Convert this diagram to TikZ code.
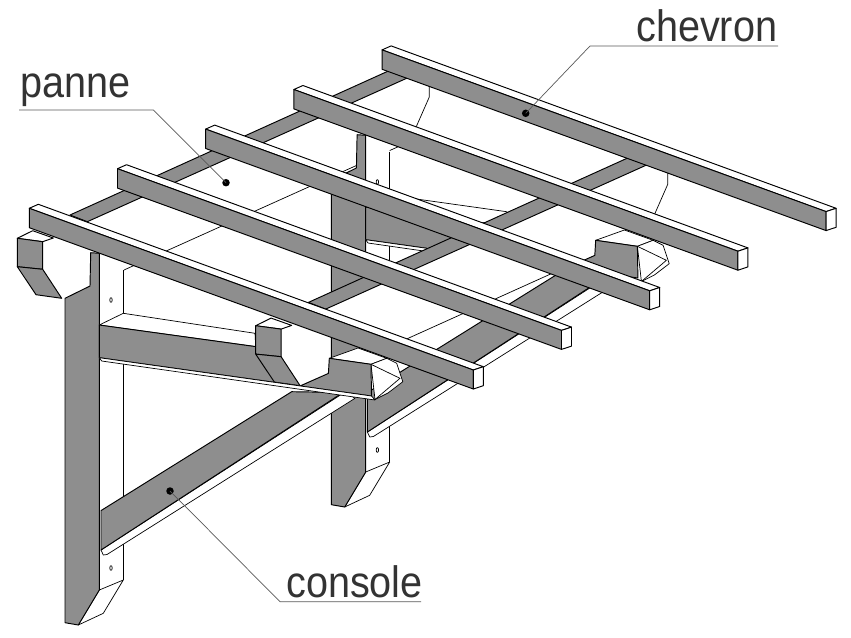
\documentclass[tikz,border=0pt]{standalone}
\usepackage{fontspec}
\setmainfont[FakeStretch=0.9]{Liberation Sans}
\definecolor{woodgray}{HTML}{8E8E8E}
\tikzset{
  edge/.style={draw=black,line width=0.95pt,line join=round},
  grayface/.style={edge,fill=woodgray},
  whiteface/.style={edge,fill=white},
  thin edge/.style={draw=black,line width=0.7pt,line join=round},
  thinface/.style={thin edge,fill=white},
  leader/.style={draw=black!65,line width=0.7pt},
  pin/.style={circle,fill=black,inner sep=0pt,minimum size=7.5pt},
  lab/.style={anchor=base west,inner sep=0pt,font=\fontsize{44}{44}\selectfont,text=black!80}
}
\newcommand{\rafter}[2]{%
  \begin{scope}[shift={(#1,#2)}]
    \path[whiteface] (29.3,208.3)--(38.3,204.3)--(483.3,366.7)--(473.3,370)--cycle;
    \path[grayface] (29.3,208.3)--(473.3,370)--(473.3,389)--(29.3,227.7)--cycle;
    \path[whiteface] (473.3,370)--(483.3,366.7)--(483.3,385.7)--(473.3,389)--cycle;
  \end{scope}}
\newcommand{\postparts}{%
  \fill[white] (99.3,262)--(123.3,262)--(123.3,585)--(99.3,595)--cycle;
  \draw[thin edge] (123.3,270)--(123.3,580);
  \path[thinface] (99.3,590)--(123.3,580)--(103.3,613.3)--(78.3,625)--cycle;
  \draw[thin edge] (111,300) ellipse (1.2pt and 2.4pt);
  \draw[thin edge] (111,568) ellipse (1.2pt and 2.4pt);
  \path[grayface] (65,298.3)--(90,286)--(90.7,252.7)--(99.3,253.3)--(99.3,590)--(78.3,625)--(65,622.7)--cycle;}
\newcommand{\strutparts}{%
  \path[thinface] (101,550)--(103.3,555)--(107,554.5)--(355,398.3)--(345,392)--cycle;
  \path[grayface] (101,510.6)--(291.7,391.7)--(343,392.5)--(101,550)--cycle;}
\newcommand{\armend}{%
  \path[thinface] (329.3,358.3)--(358,348)--(386.7,358.3)--(371,364.3)--cycle;
  \path[thinface] (371,364.3)--(386.7,358.3)--(396.7,363.3)--(402.8,381.7)--(388,393)--(375,399.5)--cycle;
  \draw[thin edge] (371,364.3)--(400,378.3)--(375,399.5);
  \path[grayface] (300,386)--(328.4,373.4)--(329.3,358.3)--(371,364.3)--(371.5,396)--cycle;}
\newcommand{\bracket}[2]{%
  \begin{scope}[shift={(#1,#2)}]
    \fill[white] (42.7,241.7)--(42.7,269.3)--(61.7,298.3)--(65,298.3)--(90,286)--(90,240)--cycle;
    \path[whiteface] (17.3,238.3)--(32.7,230.7)--(53.3,238)--(42.7,241.7)--cycle;
    \path[grayface] (17.3,238.3)--(42.7,241.7)--(42.7,269.3)--(17.3,266.7)--cycle;
    \path[grayface] (17.3,266.7)--(42.7,269.3)--(61.7,298.3)--(36,294.7)--cycle;
  \end{scope}}
\newcommand{\purlin}[2]{%
  \begin{scope}[shift={(#1,#2)}]
    \path[grayface] (70,215)--(395,68)--(414,75)--(87.3,221.7)--cycle;
    \draw[thin edge] (429.3,80)--(429.3,97)--(416.7,125.7)--(413,134);
  \end{scope}}
\begin{document}
\begin{tikzpicture}[x=1pt,y=-1pt]
\useasboundingbox (0,0) rectangle (851,637);
% plane lines behind everything
\draw[thin edge] (124,270)--(402,145)--(425,135);
\draw[thin edge] (380,351)--(575,263);
% back console
\begin{scope}[shift={(266.4,-118)}]
  \postparts
  \strutparts
\end{scope}
\path[thinface] (365.7,207)--(390,195.3)--(506.7,211.7)--(506,226)--cycle;
\path[grayface] (365.7,207)--(506,226)--(430,251)--(426.7,248.3)--(365.7,239.7)--cycle;
\path[thinface] (365.7,239.7)--(368,243)--(427,251.5)--(426.7,248.3)--cycle;
\begin{scope}[shift={(266.4,-118)}]
  \armend
\end{scope}
\fill[white] (318,311)--(392,279)--(392,340)--(318,322)--cycle;
% purlins
\purlin{0}{0}
\purlin{238.4}{87.4}
% front console
\bracket{0}{0}
\postparts
\strutparts
\path[thinface] (99.3,325)--(123.3,313.3)--(255,333.3)--(255.7,346.6)--cycle;
\path[grayface] (99.3,325)--(255.7,346.6)--(275,381.7)--(275,382.4)--(99.3,357.7)--cycle;
\bracket{238.4}{87.4}
\armend
\path[thinface] (99.3,357.7)--(101.7,361)--(375,400)--(371.5,396)--cycle;
% rafters
\rafter{352.8}{-158.4}
\rafter{264.6}{-118.8}
\rafter{176.4}{-79.2}
\rafter{88.2}{-39.6}
\rafter{0}{0}
% labels and leaders
\node[lab] (chevlab) at (636,41) {chevron};
\node[lab] (pannelab) at (20,97) {panne};
\node[lab] (conslab) at (286,597) {console};
\node[pin] (chevpin) at (525.7,113.3) {};
\node[pin] (pannepin) at (226,182.7) {};
\node[pin] (conspin) at (170,491) {};
\coordinate (chevelbow) at (590,46);
\coordinate (chevend) at (778,46);
\coordinate (panneelbow) at (153.3,110);
\coordinate (panneend) at (19,110);
\coordinate (conselbow) at (280,601.7);
\coordinate (consend) at (421,601.7);
\draw[leader] (chevpin.center)--(chevelbow)--(chevend);
\draw[leader] (pannepin.center)--(panneelbow)--(panneend);
\draw[leader] (conspin.center)--(conselbow)--(consend);
\end{tikzpicture}
\end{document}
